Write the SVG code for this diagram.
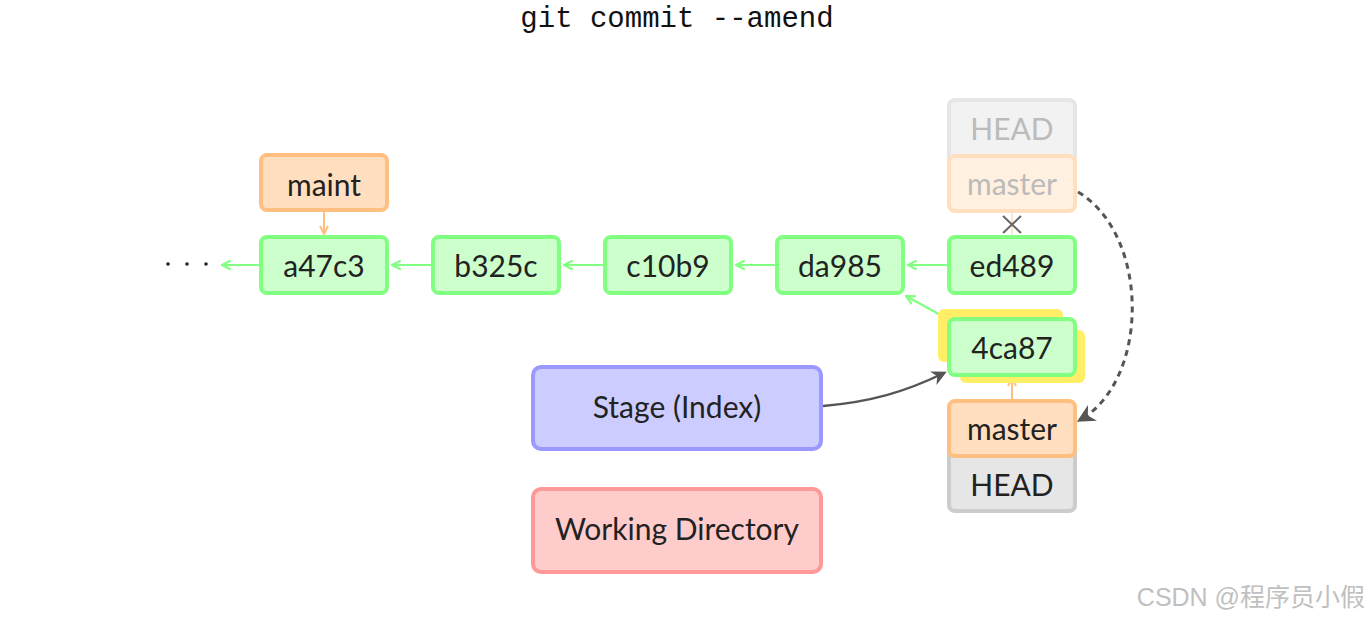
<svg xmlns="http://www.w3.org/2000/svg" width="1368" height="620" viewBox="0 0 1368 620">
<style>
.t{font-family:Lato,"Open Sans","DejaVu Sans",sans-serif;font-size:30px;fill:#222;text-anchor:middle;dominant-baseline:central}
.commit{fill:#ccffcc;stroke:#80ff80;stroke-width:4}
.branch{fill:#ffdfbf;stroke:#ffbf80;stroke-width:4}
.head{fill:#e6e6e6;stroke:#cccccc;stroke-width:4}
.g{stroke:#80ff80;stroke-width:2.2;fill:none}
.o{stroke:#ffbf80;stroke-width:2;fill:none}
</style>
<defs>
<marker id="ag" viewBox="0 0 10 10" refX="9" refY="5" markerWidth="5" markerHeight="5" orient="auto"><path d="M1,1 L9,5 L1,9" fill="none" stroke="#80ff80" stroke-width="2"/></marker>
<marker id="ao" viewBox="0 0 10 10" refX="9" refY="5" markerWidth="5" markerHeight="5" orient="auto"><path d="M1,1 L9,5 L1,9" fill="none" stroke="#ffbf80" stroke-width="2"/></marker>
<marker id="ad" viewBox="0 0 10 10" refX="8" refY="5" markerWidth="6" markerHeight="6" orient="auto"><path d="M0,0 L10,5 L0,10 L3,5 Z" fill="#555"/></marker>
</defs>
<text x="677" y="27" font-family="Liberation Mono,monospace" font-size="29" fill="#111" text-anchor="middle">git commit --amend</text>
<g id="n-dots" fill="#222"><circle cx="168" cy="264" r="1.8"/><circle cx="187" cy="264" r="1.8"/><circle cx="206" cy="264" r="1.8"/></g>
<g id="connectors">
<path class="g" d="M260,265 H222" marker-end="url(#ag)"/>
<path class="g" d="M432,265 H392" marker-end="url(#ag)"/>
<path class="g" d="M604,265 H564" marker-end="url(#ag)"/>
<path class="g" d="M776,265 H736" marker-end="url(#ag)"/>
<path class="g" d="M948,265 H908" marker-end="url(#ag)"/>
<path class="g" d="M946,318 L906,296" marker-end="url(#ag)"/>
<path class="o" d="M324,212 V234" marker-end="url(#ao)"/>
<path class="o" d="M1012,399 V378" marker-end="url(#ao)"/>
<path d="M1012,212 V235" stroke="#ffe6cc" stroke-width="2"/>
<path d="M1003,216 L1021,233 M1021,216 L1003,233" stroke="#666" stroke-width="2"/>
<path d="M823,406 C870,402 905,392 944,373" stroke="#555" stroke-width="2.5" fill="none" marker-end="url(#ad)"/>
<path d="M1078,192 C1150,235 1150,380 1080,420" stroke="#555" stroke-width="3" stroke-dasharray="6,5" fill="none" marker-end="url(#ad)"/>
</g>
<g id="n-maint"><rect class="branch" x="261" y="155" width="126" height="55" rx="6"/><text class="t" x="324" y="184">maint</text></g>
<g id="n-a47c3"><rect class="commit" x="261" y="237" width="126" height="56" rx="6"/><text class="t" x="324" y="265">a47c3</text></g>
<g id="n-b325c"><rect class="commit" x="433" y="237" width="126" height="56" rx="6"/><text class="t" x="496" y="265">b325c</text></g>
<g id="n-c10b9"><rect class="commit" x="605" y="237" width="126" height="56" rx="6"/><text class="t" x="668" y="265">c10b9</text></g>
<g id="n-da985"><rect class="commit" x="777" y="237" width="126" height="56" rx="6"/><text class="t" x="840" y="265">da985</text></g>
<g id="n-ed489"><rect class="commit" x="949" y="237" width="126" height="56" rx="6"/><text class="t" x="1012" y="265">ed489</text></g>
<g id="n-oldhead"><rect x="949" y="100" width="126" height="70" rx="6" fill="#f2f2f2" stroke="#e6e6e6" stroke-width="4"/><text class="t" x="1012" y="128" style="fill:#bbb">HEAD</text></g>
<g id="n-oldmaster"><rect x="949" y="156" width="126" height="55" rx="6" fill="#fff0e0" stroke="#ffdfbf" stroke-width="4"/><text class="t" x="1012" y="183" style="fill:#bbb">master</text></g>
<g id="n-4ca87">
<rect x="938" y="309" width="125" height="53" rx="6" fill="#ffee66"/>
<rect x="960" y="330" width="125" height="53" rx="6" fill="#ffee66"/>
<rect class="commit" x="949" y="319" width="126" height="56" rx="6"/><text class="t" x="1012" y="347">4ca87</text></g>
<g id="n-head"><rect class="head" x="949" y="440" width="126" height="71" rx="6"/><text class="t" x="1012" y="484">HEAD</text></g>
<g id="n-master"><rect class="branch" x="949" y="401" width="126" height="55" rx="6"/><text class="t" x="1012" y="428">master</text></g>
<g id="n-stage"><rect x="533" y="367" width="288" height="82" rx="8" fill="#ccccff" stroke="#9999ff" stroke-width="4"/><text class="t" x="677" y="406">Stage (Index)</text></g>
<g id="n-wd"><rect x="533" y="489" width="288" height="83" rx="8" fill="#ffcccc" stroke="#ff9999" stroke-width="4"/><text class="t" x="677" y="528">Working Directory</text></g>
<text x="1365" y="606" font-family="Liberation Sans,'Noto Sans CJK SC',sans-serif" font-size="25" fill="#c0c0c0" text-anchor="end">CSDN @程序员小假</text>
</svg>
